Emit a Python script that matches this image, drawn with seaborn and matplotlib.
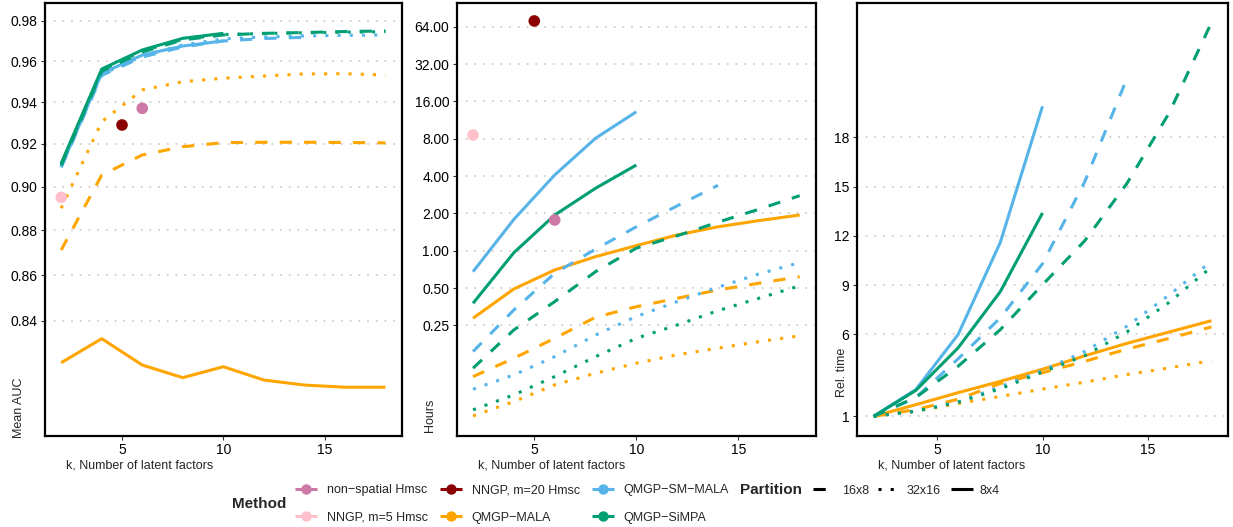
import numpy as np
import pandas as pd
import matplotlib
matplotlib.use("Agg")
import matplotlib.pyplot as plt
from matplotlib.lines import Line2D
from matplotlib.ticker import FixedLocator, NullLocator, FixedFormatter
import seaborn as sns

# ---------------- data ----------------
k_all = [2, 4, 6, 8, 10, 12, 14, 16, 18]

methods = ["QMGP\u2212MALA", "QMGP\u2212SM\u2212MALA", "QMGP\u2212SiMPA"]
partitions = ["16x8", "32x16", "8x4"]

# Mean AUC
auc_mala_8x4 = [0.8222, 0.8324, 0.8212, 0.8159, 0.8205, 0.8149, 0.8128, 0.8119, 0.8119]
auc_mala_16x8 = [0.8712, 0.9054, 0.9148, 0.9187, 0.9206, 0.9208, 0.9208, 0.9207, 0.9205]
auc_mala_32x16 = [0.8901, 0.9306, 0.9459, 0.9499, 0.9516, 0.9527, 0.9537, 0.9538, 0.9532]
auc_smmala_8x4 = [0.9093, 0.9540, 0.9630, 0.9675, 0.9700]
auc_smmala_16x8 = [0.9090, 0.9530, 0.9620, 0.9670, 0.9700, 0.9712, 0.9718]
auc_smmala_32x16 = [0.9095, 0.9535, 0.9625, 0.9680, 0.9710, 0.9720, 0.9725, 0.9728, 0.9730]
auc_simpa_8x4 = [0.9109, 0.9561, 0.9655, 0.9713, 0.9738]
auc_simpa_16x8 = [0.9100, 0.9550, 0.9645, 0.9705, 0.9730, 0.9738, 0.9742, 0.9747, 0.9750]
auc_simpa_32x16 = [0.9105, 0.9555, 0.9650, 0.9708, 0.9732, 0.9737, 0.9741, 0.9744, 0.9746]

# Hours
hrs_mala_8x4 = [0.286, 0.492, 0.700, 0.896, 1.10, 1.34, 1.56, 1.75, 1.94]
hrs_mala_16x8 = [0.0967, 0.136, 0.197, 0.291, 0.354, 0.414, 0.483, 0.547, 0.618]
hrs_mala_32x16 = [0.0466, 0.0608, 0.0829, 0.103, 0.124, 0.145, 0.164, 0.185, 0.206]
hrs_smmala_8x4 = [0.678, 1.79, 4.08, 8.07, 13.2]
hrs_smmala_16x8 = [0.154, 0.333, 0.658, 1.03, 1.56, 2.30, 3.37]
hrs_smmala_32x16 = [0.0765, 0.0998, 0.140, 0.209, 0.295, 0.389, 0.508, 0.650, 0.802]
hrs_simpa_8x4 = [0.377, 0.965, 1.94, 3.19, 4.91]
hrs_simpa_16x8 = [0.113, 0.230, 0.389, 0.678, 1.05, 1.32, 1.70, 2.16, 2.78]
hrs_simpa_32x16 = [0.0522, 0.0689, 0.0967, 0.140, 0.197, 0.252, 0.329, 0.414, 0.521]

# Relative time
rel_mala_8x4 = [1, 1.71, 2.44, 3.13, 3.87, 4.69, 5.45, 6.14, 6.83]
rel_mala_16x8 = [1, 1.41, 2.04, 3.00, 3.66, 4.35, 5.10, 5.75, 6.45]
rel_mala_32x16 = [1, 1.30, 1.78, 2.21, 2.66, 3.08, 3.55, 3.95, 4.40]
rel_smmala_8x4 = [1, 2.63, 5.98, 11.6, 19.9]
rel_smmala_16x8 = [1, 2.14, 4.50, 7.00, 10.3, 15.3, 21.6]
rel_smmala_32x16 = [1, 1.30, 1.88, 2.80, 3.80, 4.95, 6.50, 8.40, 10.45]
rel_simpa_8x4 = [1, 2.58, 5.17, 8.60, 13.4]
rel_simpa_16x8 = [1, 2.15, 4.05, 6.28, 9.02, 11.7, 15.2, 19.5, 25.0]
rel_simpa_32x16 = [1, 1.32, 1.85, 2.68, 3.70, 4.70, 6.15, 7.95, 10.1]

# Hmsc reference points
pt_methods = ["non\u2212spatial Hmsc", "NNGP, m=20 Hmsc", "NNGP, m=5 Hmsc"]
pt_k = [6, 5, 2]
pt_auc = [0.937, 0.929, 0.8951]
pt_hours = [1.77, 71.2, 8.57]

colors = {
    "non\u2212spatial Hmsc": "#CC79A7",
    "NNGP, m=5 Hmsc": "#FFC0CB",
    "NNGP, m=20 Hmsc": "#8B0000",
    "QMGP\u2212MALA": "#FFA500",
    "QMGP\u2212SM\u2212MALA": "#56B4E9",
    "QMGP\u2212SiMPA": "#009E73",
}

series = {
    ("QMGP\u2212MALA", "8x4"): (auc_mala_8x4, hrs_mala_8x4, rel_mala_8x4),
    ("QMGP\u2212MALA", "16x8"): (auc_mala_16x8, hrs_mala_16x8, rel_mala_16x8),
    ("QMGP\u2212MALA", "32x16"): (auc_mala_32x16, hrs_mala_32x16, rel_mala_32x16),
    ("QMGP\u2212SM\u2212MALA", "8x4"): (auc_smmala_8x4, hrs_smmala_8x4, rel_smmala_8x4),
    ("QMGP\u2212SM\u2212MALA", "16x8"): (auc_smmala_16x8, hrs_smmala_16x8, rel_smmala_16x8),
    ("QMGP\u2212SM\u2212MALA", "32x16"): (auc_smmala_32x16, hrs_smmala_32x16, rel_smmala_32x16),
    ("QMGP\u2212SiMPA", "8x4"): (auc_simpa_8x4, hrs_simpa_8x4, rel_simpa_8x4),
    ("QMGP\u2212SiMPA", "16x8"): (auc_simpa_16x8, hrs_simpa_16x8, rel_simpa_16x8),
    ("QMGP\u2212SiMPA", "32x16"): (auc_simpa_32x16, hrs_simpa_32x16, rel_simpa_32x16),
}

rows = []
for (m, p), (a, h, r) in series.items():
    for i, kk in enumerate(k_all[:len(a)]):
        rows.append(dict(Method=m, Partition=p, k=kk, auc=a[i], hours=h[i], rel=r[i]))
df = pd.DataFrame(rows)
pts = pd.DataFrame(dict(Method=pt_methods, k=pt_k, auc=pt_auc, hours=pt_hours))

# ---------------- style ----------------
sns.set_style("white")
plt.rcParams["font.family"] = ["Liberation Sans", "DejaVu Sans"]

LW = 2.2
dashes = {"16x8": (4, 4), "32x16": (1, 3), "8x4": ""}

W, H = 1233, 527
fig = plt.figure(figsize=(W / 100, H / 100), dpi=100)
axL = fig.add_axes([45 / W, 91 / H, 356.7 / W, 433 / H])
axM = fig.add_axes([456.7 / W, 91 / H, 359.3 / W, 433 / H])
axR = fig.add_axes([856.7 / W, 91 / H, 371.6 / W, 433 / H])

line_pal = {m: colors[m] for m in methods}

for ax, col in [(axL, "auc"), (axM, "hours"), (axR, "rel")]:
    sns.lineplot(data=df, x="k", y=col, hue="Method", style="Partition",
                 hue_order=methods, style_order=partitions,
                 palette=line_pal, dashes=dashes, linewidth=LW,
                 estimator=None, sort=True, legend=False, ax=ax)
    for ln in ax.get_lines():
        ln.set_dash_capstyle("butt")
        ln.set_solid_capstyle("butt")

pt_pal = {m: colors[m] for m in pt_methods}
sns.scatterplot(data=pts, x="k", y="auc", hue="Method", palette=pt_pal, s=70,
                edgecolor="none", linewidth=0, legend=False, ax=axL, zorder=5)
sns.scatterplot(data=pts, x="k", y="hours", hue="Method", palette=pt_pal, s=70,
                edgecolor="none", linewidth=0, legend=False, ax=axM, zorder=5)

# scales
axL.set_yscale("log")
axL.set_ylim(0.7918, 0.9891)
auc_ticks = [0.84, 0.86, 0.88, 0.90, 0.92, 0.94, 0.96, 0.98]
axL.yaxis.set_major_locator(FixedLocator(auc_ticks))
axL.yaxis.set_major_formatter(FixedFormatter([f"{v:.2f}" for v in auc_ticks]))
axL.yaxis.set_minor_locator(NullLocator())

axM.set_yscale("log", base=2)
axM.set_ylim(0.0321, 99.4)
hr_ticks = [0.25, 0.5, 1, 2, 4, 8, 16, 32, 64]
axM.yaxis.set_major_locator(FixedLocator(hr_ticks))
axM.yaxis.set_major_formatter(FixedFormatter([f"{v:.2f}" for v in hr_ticks]))
axM.yaxis.set_minor_locator(NullLocator())

axR.set_ylim(-0.2, 26.2)
rel_ticks = [1, 6, 9, 12, 15, 18]
axR.yaxis.set_major_locator(FixedLocator(rel_ticks))
axR.yaxis.set_major_formatter(FixedFormatter([str(v) for v in rel_ticks]))

# (label, x in axes fraction of right edge, y in axes fraction of text start)
ylabels = {axL: ("Mean AUC", -0.056, -0.005),
           axM: ("Hours", -0.058, 0.009),
           axR: ("Rel. time", -0.024, 0.090)}
for ax in (axL, axM, axR):
    ax.set_xlim(1.2, 18.8)
    ax.set_xticks([5, 10, 15])
    ax.set_xticklabels(["5", "10", "15"])
    ax.tick_params(axis="both", which="major", direction="out", length=2.8, width=0.8,
                   color="#333333", labelsize=10, labelcolor="black", pad=2.5,
                   left=True, bottom=True)
    ax.yaxis.grid(True, color="#C4C4C4", linestyle=(0, (1.1, 4.6)), linewidth=1.1)
    ax.xaxis.grid(False)
    ax.set_axisbelow(True)
    for s in ax.spines.values():
        s.set_color("black")
        s.set_linewidth(1.6)
    ax.set_xlabel("k, Number of latent factors", fontsize=9, loc="left")
    ax.xaxis.set_label_coords(0.058, -0.055)
    lab, xc, yc = ylabels[ax]
    ax.set_ylabel(lab, fontsize=9, loc="bottom")
    ax.yaxis.set_label_coords(xc, yc)

# ---------------- legends ----------------
leg_order = ["non\u2212spatial Hmsc", "NNGP, m=5 Hmsc", "NNGP, m=20 Hmsc",
             "QMGP\u2212MALA", "QMGP\u2212SM\u2212MALA", "QMGP\u2212SiMPA"]
mh = [Line2D([0], [0], color=colors[m], lw=LW, marker="o", markersize=7.5,
             markeredgewidth=0, solid_capstyle="butt") for m in leg_order]
fig.text(232 / W, 1 - 504 / H, "Method", fontsize=11, fontweight="bold",
         ha="left", va="center")
fig.legend(mh, leg_order, ncol=3, loc="center left",
           bbox_to_anchor=(295 / W, 1 - 504 / H), frameon=False, fontsize=9,
           handlelength=1.75, handletextpad=0.8, columnspacing=0.95,
           labelspacing=1.2, borderpad=0, borderaxespad=0)

ph = [Line2D([0], [0], color="black", lw=LW, linestyle=(0, dashes[p]) if dashes[p] else "-",
             dash_capstyle="butt", solid_capstyle="butt") for p in partitions]
fig.text(740 / W, 1 - 490.5 / H, "Partition", fontsize=11, fontweight="bold",
         ha="left", va="center")
fig.legend(ph, partitions, ncol=3, loc="center left",
           bbox_to_anchor=(813 / W, 1 - 490.5 / H), frameon=False, fontsize=9,
           handlelength=1.8, handletextpad=0.5, columnspacing=0.75,
           borderpad=0, borderaxespad=0)

fig.savefig("out.png", dpi=100)
